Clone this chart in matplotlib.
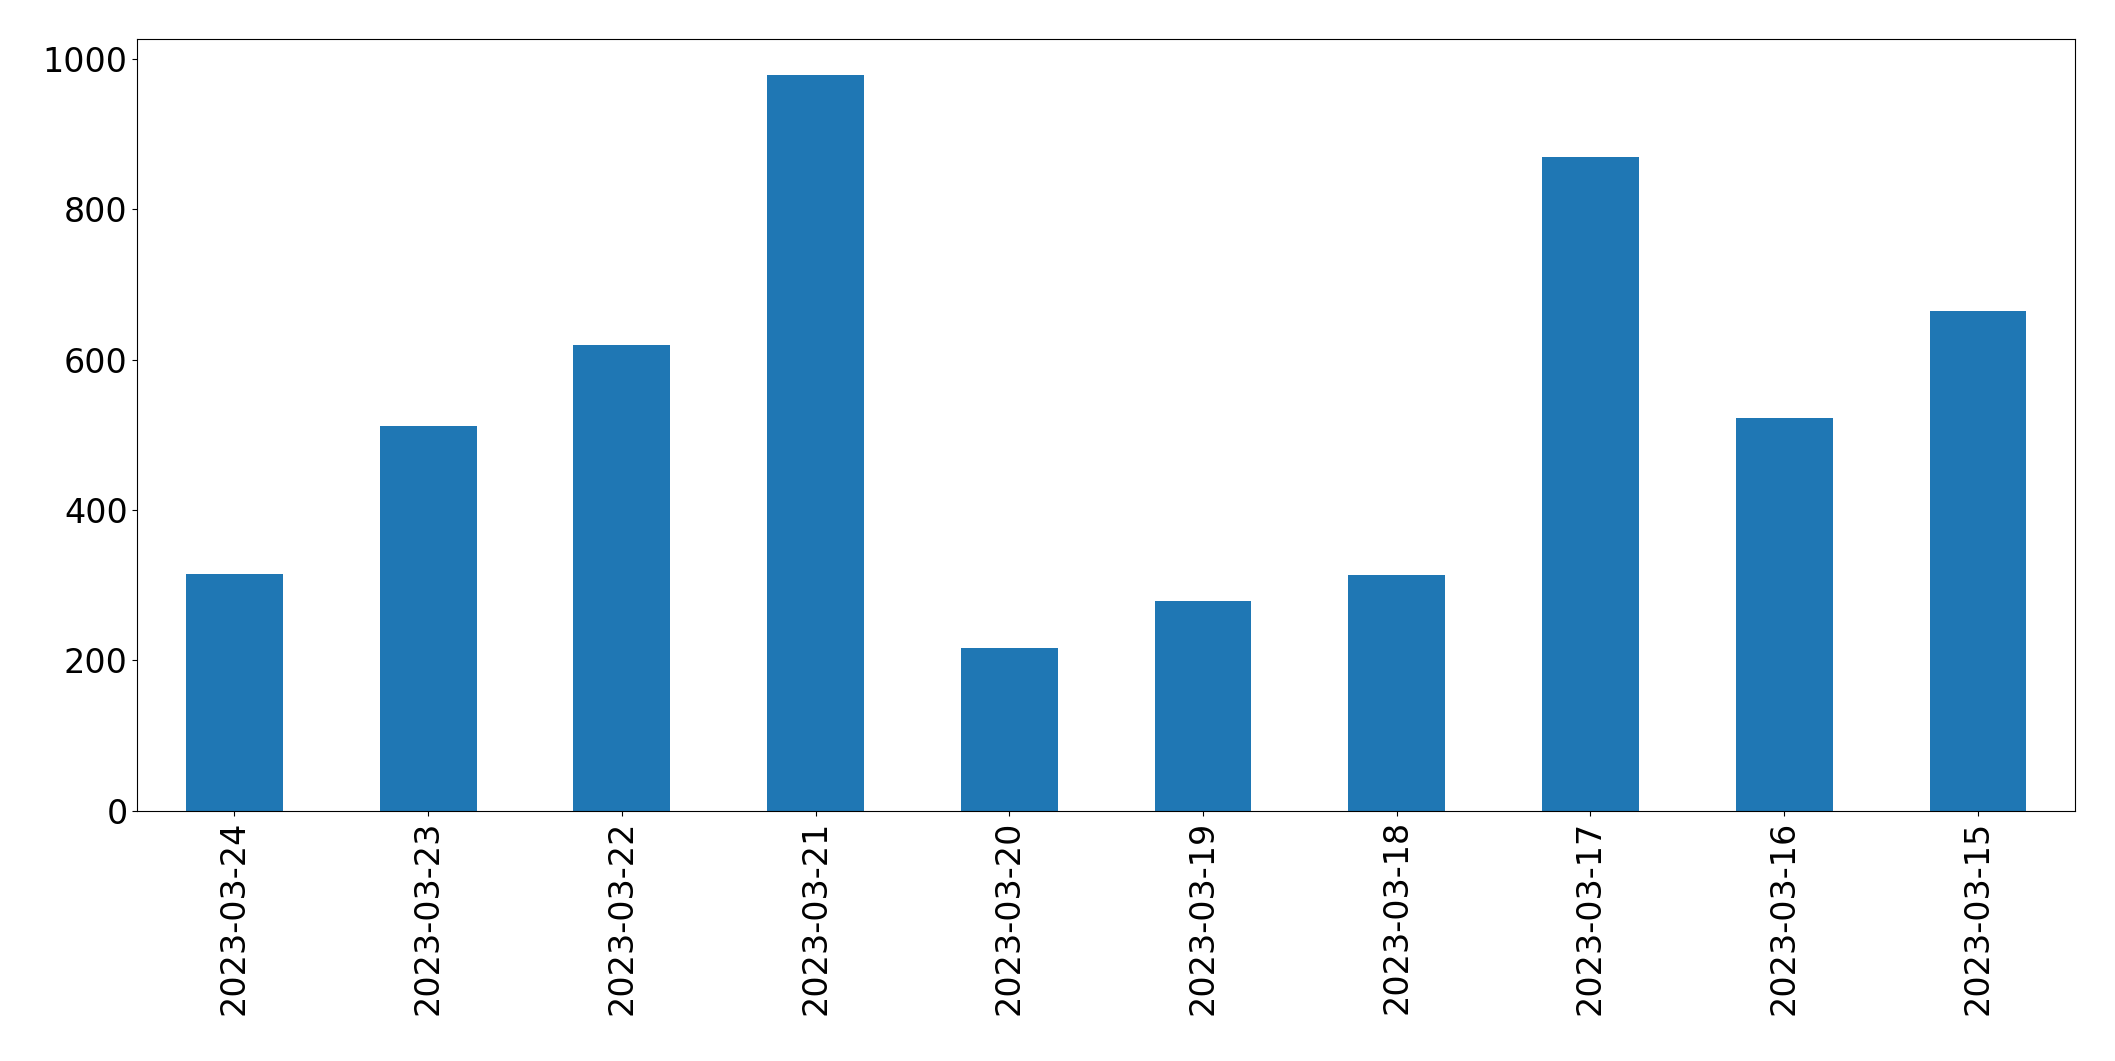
import matplotlib
matplotlib.use("Agg")
import matplotlib.pyplot as plt

dates = ["2023-03-24","2023-03-23","2023-03-22","2023-03-21","2023-03-20",
         "2023-03-19","2023-03-18","2023-03-17","2023-03-16","2023-03-15"]
values = [315, 511, 619, 978, 216, 279, 313, 869, 522, 664]

fig = plt.figure(figsize=(21.15, 10.61), dpi=100)
ax = fig.add_axes([0.065, 0.236, 0.916, 0.727])
x = range(len(dates))
ax.bar(x, values, width=0.5, color="#1f77b4")
ax.set_xticks(list(x))
ax.set_xticklabels(dates, rotation=90)
ax.set_xlim(-0.5, len(dates) - 0.5)
ax.set_ylim(0, 1026)
ax.tick_params(labelsize=24)
fig.savefig("out.png", dpi=100)
